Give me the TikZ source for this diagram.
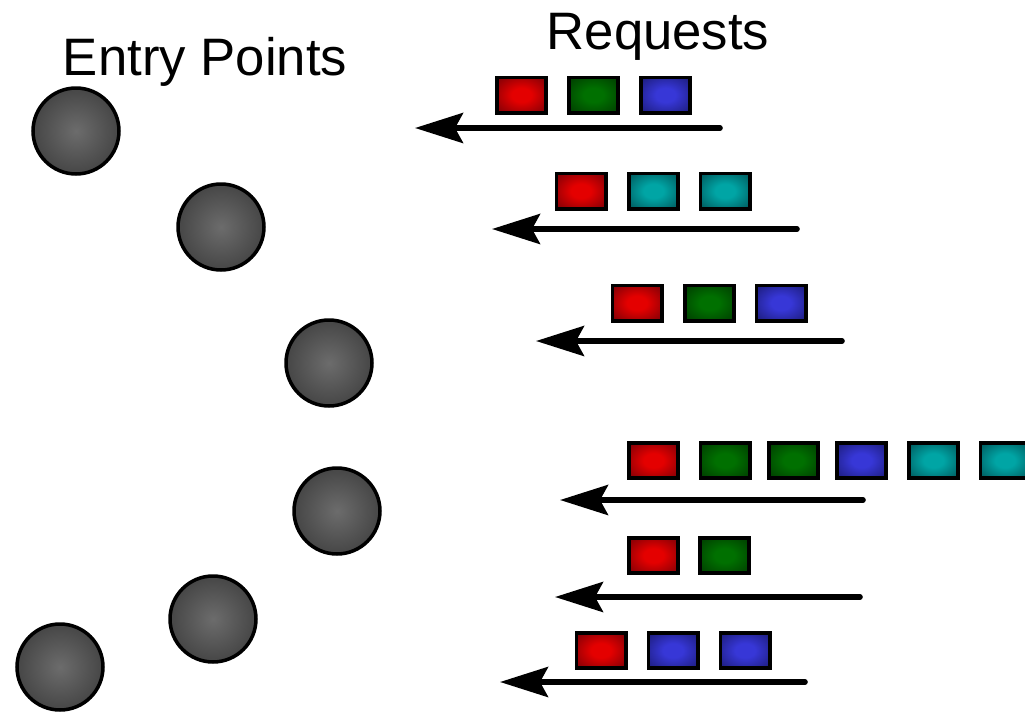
\documentclass[tikz,border=0pt]{standalone}
\usepackage{fontspec}
\setmainfont{Liberation Sans}
\usetikzlibrary{arrows.meta,shapes}
% colours of the queued requests and of the entry points
\definecolor{reqred}{RGB}{228,0,0}
\definecolor{reqreddark}{RGB}{95,0,8}
\definecolor{reqgreen}{RGB}{0,112,0}
\definecolor{reqgreendark}{RGB}{0,45,0}
\definecolor{reqblue}{RGB}{55,55,215}
\definecolor{reqbluedark}{RGB}{20,20,95}
\definecolor{reqcyan}{RGB}{0,165,165}
\definecolor{reqcyandark}{RGB}{0,65,70}
\definecolor{ballmid}{RGB}{108,108,108}
\definecolor{balledge}{RGB}{32,32,32}
\pgfdeclareradialshading{redbox}{\pgfpoint{0bp}{0bp}}{color(0bp)=(reqred); color(10bp)=(reqred); color(42bp)=(reqreddark); color(80bp)=(reqreddark)}
\pgfdeclareradialshading{greenbox}{\pgfpoint{0bp}{0bp}}{color(0bp)=(reqgreen); color(10bp)=(reqgreen); color(42bp)=(reqgreendark); color(80bp)=(reqgreendark)}
\pgfdeclareradialshading{bluebox}{\pgfpoint{0bp}{0bp}}{color(0bp)=(reqblue); color(10bp)=(reqblue); color(42bp)=(reqbluedark); color(80bp)=(reqbluedark)}
\pgfdeclareradialshading{cyanbox}{\pgfpoint{0bp}{0bp}}{color(0bp)=(reqcyan); color(10bp)=(reqcyan); color(42bp)=(reqcyandark); color(80bp)=(reqcyandark)}
\pgfdeclareradialshading{ball}{\pgfpoint{0bp}{0bp}}{color(0bp)=(ballmid); color(50bp)=(balledge); color(80bp)=(balledge)}
\tikzstyle{entry} = [circle, draw=black, line width=2pt, inner sep=0pt,
    minimum size=1.72cm, shading=ball]
\tikzstyle{queue} = [line width=3.2pt, line cap=round,
    -{Stealth[length=0.96cm,width=0.6cm,inset=0.16cm]}]
\tikzstyle{title} = [font=\fontsize{30}{36}\selectfont, anchor=base, inner sep=0pt]
\tikzset{req/.style={draw=black, line width=2pt, rectangle, inner sep=0pt,
    minimum width=0.99cm, minimum height=0.71cm, shading=#1box}}

\begin{document}
\begin{tikzpicture}[x=0.02cm,y=-0.02cm]
    \clip (0,0) rectangle (1025,714);

    % entry points
    \node[title] (eptitle) at (205,75) {Entry Points};
    \node[entry] (ep1) at (76,131) {};
    \node[entry] (ep2) at (221,227) {};
    \node[entry] (ep3) at (329,363) {};
    \node[entry] (ep4) at (337,511) {};
    \node[entry] (ep5) at (213,619) {};
    \node[entry] (ep6) at (60,667) {};

    % request queues, oldest request on the left
    \node[title] (reqtitle) at (658,49) {Requests};

    \foreach \x/\c [count=\i] in {521.5/red,593.5/green,665.5/blue}
      \node[req=\c] (qa\i) at (\x,95) {};
    \foreach \x/\c [count=\i] in {581/red,653.5/cyan,725/cyan}
      \node[req=\c] (qb\i) at (\x,191) {};
    \foreach \x/\c [count=\i] in {637/red,709.5/green,781/blue}
      \node[req=\c] (qc\i) at (\x,303) {};
    \foreach \x/\c [count=\i] in {653.5/red,725/green,793.5/green,861.5/blue,933.5/cyan,1005/cyan}
      \node[req=\c] (qd\i) at (\x,460.5) {};
    \foreach \x/\c [count=\i] in {653.5/red,724.5/green}
      \node[req=\c] (qe\i) at (\x,555.5) {};
    \foreach \x/\c [count=\i] in {601/red,673/blue,745/blue}
      \node[req=\c] (qf\i) at (\x,650.5) {};

    % arrows under each queue
    \coordinate (tailA) at (720,128);  \coordinate (headA) at (415,128);
    \coordinate (tailB) at (797,229);  \coordinate (headB) at (492,229);
    \coordinate (tailC) at (842,341);  \coordinate (headC) at (536,341);
    \coordinate (tailD) at (863,500);  \coordinate (headD) at (560,500);
    \coordinate (tailE) at (860,597);  \coordinate (headE) at (555,597);
    \coordinate (tailF) at (805,682);  \coordinate (headF) at (500,682);
    \draw[queue] (tailA) -- (headA);
    \draw[queue] (tailB) -- (headB);
    \draw[queue] (tailC) -- (headC);
    \draw[queue] (tailD) -- (headD);
    \draw[queue] (tailE) -- (headE);
    \draw[queue] (tailF) -- (headF);
\end{tikzpicture}
\end{document}
